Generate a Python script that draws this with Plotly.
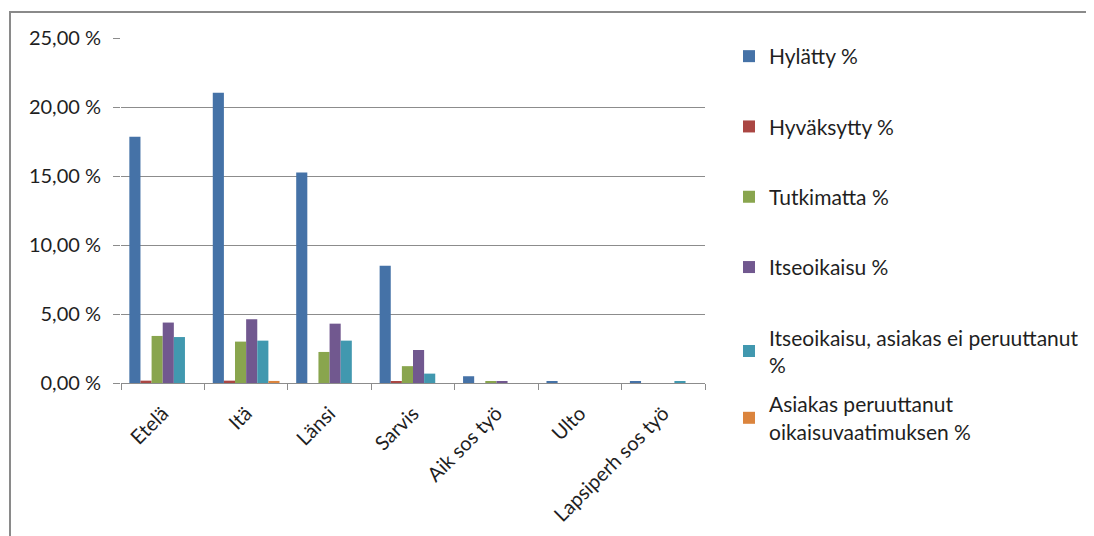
import plotly.graph_objects as go

categories = ["Etelä", "Itä", "Länsi", "Sarvis", "Aik sos työ", "Ulto", "Lapsiperh sos työ"]

hylatty = [17.85, 21.03, 15.25, 8.50, 0.49, 0.08, 0.08]
hyvaksytty = [0.17, 0.17, 0.0, 0.10, 0.0, 0.0, 0.0]
tutkimatta = [3.41, 3.00, 2.25, 1.22, 0.10, 0.0, 0.0]
itseoikaisu = [4.38, 4.62, 4.30, 2.39, 0.10, 0.0, 0.0]
itseoikaisu_ei_peruuttanut = [3.33, 3.07, 3.07, 0.68, 0.0, 0.0, 0.08]
asiakas_peruuttanut = [0.0, 0.15, 0.0, 0.0, 0.0, 0.0, 0.0]

series_names = [
    "Hylätty %",
    "Hyväksytty %",
    "Tutkimatta %",
    "Itseoikaisu %",
    "Itseoikaisu, asiakas ei peruuttanut<br>%",
    "Asiakas peruuttanut<br>oikaisuvaatimuksen %",
]
series_values = [hylatty, hyvaksytty, tutkimatta, itseoikaisu,
                 itseoikaisu_ei_peruuttanut, asiakas_peruuttanut]
colors = ["#4572A7", "#AA4643", "#89A54E", "#71588F", "#4198AF", "#DB843D"]

y_tickvals = [0, 5, 10, 15, 20, 25]
y_ticktext = ["0,00 %", "5,00 %", "10,00 %", "15,00 %", "20,00 %", "25,00 %"]

# page places the figure at an 8px offset; work in screen pixels and convert
OFF = 8
W, H = 1094 - OFF, 536 - OFF
L, R, T, B = 121 - OFF, 705 - OFF, 38 - OFF, 383 - OFF  # plot area in figure pixels
pw, ph = R - L, B - T

def px(x):  # screen x -> paper
    return (x - OFF - L) / pw

def py(y):  # screen y -> paper
    return (B - (y - OFF)) / ph

fig = go.Figure()
for i, (name, vals, col) in enumerate(zip(series_names, series_values, colors)):
    fig.add_trace(go.Bar(
        x=categories, y=vals, name=name, legendgroup=f"g{i}",
        legend="legend2" if i == 5 else "legend",
        marker=dict(color=col, line=dict(width=0)),
    ))

font_family = "Lato, 'Open Sans', sans-serif"
leg_font = dict(family=font_family, size=21, color="#1f1f1f")

fig.update_layout(
    width=W, height=H,
    margin=dict(l=L, r=W - R, t=T, b=H - B, pad=0, autoexpand=False),
    paper_bgcolor="white", plot_bgcolor="white",
    barmode="group", bargap=0.2, bargroupgap=0,
    font=dict(family=font_family, size=20, color="#1f1f1f"),
    showlegend=True,
    legend=dict(
        x=px(729), y=py(36), xanchor="left", yanchor="top",
        font=leg_font, tracegroupgap=40, traceorder="grouped",
        bgcolor="rgba(0,0,0,0)", itemwidth=30, maxheight=500,
    ),
    legend2=dict(
        x=px(729), y=py(384), xanchor="left", yanchor="top",
        font=leg_font, bgcolor="rgba(0,0,0,0)", itemwidth=30, maxheight=200,
    ),
    xaxis=dict(
        type="category", tickangle=-45, automargin=False,
        ticks="outside", tickson="boundaries", ticklen=6, tickcolor="#8c8c8c",
        showline=True, linecolor="#8c8c8c", linewidth=1,
        showgrid=False, tickfont=dict(size=20, color="#1f1f1f"),
        ticklabelstandoff=10,
    ),
    yaxis=dict(
        range=[0, 25], tickvals=y_tickvals, ticktext=y_ticktext,
        automargin=False,
        showgrid=True, gridcolor="#8c8c8c", gridwidth=1,
        ticks="outside", ticklen=7, tickcolor="#8c8c8c",
        showline=False, zeroline=False,
        tickfont=dict(size=20, color="#1f1f1f"),
        ticklabelstandoff=8,
    ),
    shapes=[dict(
        type="rect", xref="paper", yref="paper",
        x0=px(10), x1=px(1130), y0=py(580), y1=py(12),
        line=dict(color="#8a8a8a", width=2), fillcolor="rgba(0,0,0,0)",
        layer="below",
    )],
)

fig.write_html("out.html")
